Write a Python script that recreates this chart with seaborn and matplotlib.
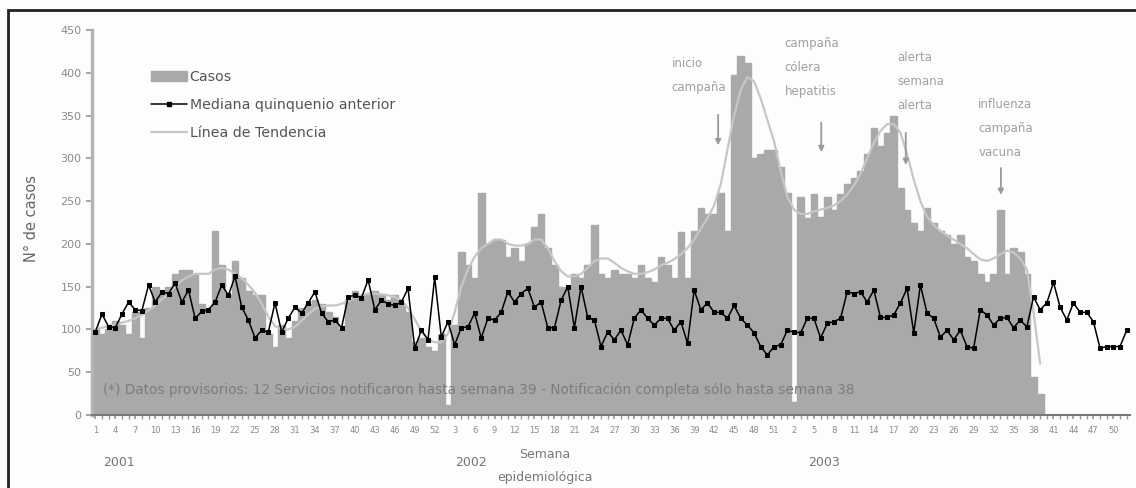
import matplotlib
matplotlib.use("Agg")
import pandas as pd
import matplotlib.pyplot as plt
import seaborn as sns
from matplotlib.lines import Line2D
from matplotlib.patches import Patch, Rectangle

# -------------------------------------------------------
# Datos - semanas 2001..2003
# -------------------------------------------------------
anios = ["2001", "2002", "2003"]
semanas = list(range(1, 53)) + list(range(1, 53)) + list(range(1, 53))

casos_2001 = [100, 95, 100, 110, 105, 95, 120, 90, 125, 150,
              145, 150, 165, 170, 170, 165, 130, 125, 215, 175,
              140, 180, 160, 145, 140, 140, 95, 80, 105, 90,
              110, 125, 130, 135, 130, 120, 115, 100, 135, 145,
              140, 140, 145, 140, 135, 140, 130, 120, 85, 90,
              80, 75]
casos_2002 = [95, 12, 105, 190, 175, 160, 260, 200, 205, 205,
              185, 195, 180, 200, 220, 235, 195, 175, 150, 150,
              165, 160, 175, 222, 165, 160, 170, 165, 165, 160,
              175, 160, 155, 185, 175, 160, 214, 160, 215, 242,
              235, 235, 260, 215, 397, 420, 412, 300, 305, 310,
              310, 290]
casos_2003 = [260, 15, 255, 230, 258, 232, 255, 240, 258, 270,
              277, 285, 305, 335, 315, 330, 350, 265, 240, 225,
              215, 242, 225, 215, 210, 200, 210, 185, 180, 165,
              155, 165, 240, 165, 195, 190, 165, 45, 25]

tend_2001 = [100, 102, 104, 106, 108, 110, 113, 117, 122, 128,
             135, 142, 150, 157, 162, 165, 165, 165, 170, 172,
             170, 165, 160, 152, 143, 130, 115, 104, 100, 100,
             103, 110, 118, 124, 127, 128, 128, 130, 133, 137,
             140, 142, 142, 141, 140, 138, 134, 125, 112, 98,
             88, 85]
tend_2002 = [85, 95, 120, 150, 170, 185, 195, 200, 205, 205,
             200, 198, 198, 200, 205, 205, 195, 180, 168, 162,
             162, 165, 172, 180, 183, 183, 178, 172, 168, 165,
             165, 167, 170, 175, 178, 182, 188, 195, 205, 218,
             230, 245, 270, 310, 350, 380, 395, 390, 370, 345,
             320, 285]
tend_2003 = [255, 240, 235, 235, 238, 240, 242, 245, 250, 258,
             268, 282, 300, 318, 332, 340, 340, 330, 305, 275,
             250, 232, 222, 215, 210, 205, 200, 195, 188, 182,
             180, 183, 188, 192, 190, 183, 170, 120, 60]

mediana = [97, 118, 103, 102, 118, 132, 123, 122, 152, 132,
           144, 142, 154, 132, 146, 113, 121, 123, 132, 152,
           140, 162, 126, 111, 90, 99, 97, 131, 97, 113,
           126, 119, 131, 144, 119, 109, 111, 102, 138, 140,
           137, 158, 123, 134, 130, 128, 132, 148, 78, 99,
           88, 161, 91, 109, 82, 102, 103, 119, 90, 113,
           111, 120, 144, 132, 142, 148, 126, 132, 102, 102,
           134, 150, 102, 150, 114, 111, 80, 97, 88, 99,
           82, 113, 123, 113, 105, 113, 113, 99, 109, 84,
           146, 123, 131, 120, 120, 113, 128, 113, 105, 96,
           80, 70, 80, 82, 99, 97, 96, 113, 113, 90,
           107, 109, 113, 144, 142, 144, 132, 146, 114, 114,
           117, 131, 148, 96, 152, 119, 113, 91, 99, 88,
           99, 80, 78, 123, 117, 105, 113, 114, 102, 111,
           103, 138, 123, 131, 155, 126, 111, 131, 120, 120,
           109, 78, 80, 80, 80, 99]

casos = casos_2001 + casos_2002 + casos_2003
tendencia = tend_2001 + tend_2002 + tend_2003

df_c = pd.DataFrame({"idx": range(len(casos)), "casos": casos, "tend": tendencia})
df_m = pd.DataFrame({"idx": range(len(mediana)), "mediana": mediana})

# -------------------------------------------------------
# Grafico
# -------------------------------------------------------
sns.set_theme(style="white")
plt.rcParams["font.family"] = ["DejaVu Sans"]

GRIS_BARRA = "#a9a9a9"
GRIS_TEND = "#c6c6c6"
GRIS_TXT = "#8a8a8a"

fig = plt.figure(figsize=(11.36, 4.88), dpi=100)
fig.patch.set_facecolor("#fdfdfd")
ax = fig.add_axes([92 / 1136, 73 / 488, 1038 / 1136, 385 / 488])
ax.set_facecolor("#fdfdfd")

sns.barplot(data=df_c, x="idx", y="casos", native_scale=True, color=GRIS_BARRA,
            saturation=1, width=1, linewidth=1.0, edgecolor=GRIS_BARRA, ax=ax, zorder=1)
sns.lineplot(data=df_c, x="idx", y="tend", color=GRIS_TEND, lw=1.6, ax=ax, zorder=2)
sns.lineplot(data=df_m, x="idx", y="mediana", color="black", lw=1.1, marker="s",
             markersize=3, markeredgecolor="black", ax=ax, zorder=3)

ax.set_xlim(-0.5, len(mediana) - 0.5)
ax.set_ylim(0, 450)
ax.set_yticks(range(0, 451, 50))
ax.set_xticks(range(0, len(semanas), 3))
ax.set_xticklabels([str(s) for s in semanas[::3]])
ax.set_xticks(range(len(semanas)), minor=True)
ax.set_xlabel("")
ax.set_ylabel("")
ax.tick_params(axis="x", which="both", length=3, color="#999999", labelsize=6,
               labelcolor=GRIS_TXT, pad=5, bottom=True)
ax.tick_params(axis="y", length=4, color="#999999", labelsize=8,
               labelcolor=GRIS_TXT, left=True)

for s in ["top", "right"]:
    ax.spines[s].set_visible(False)
ax.spines["left"].set_color("#b4b4b4")
ax.spines["left"].set_linewidth(2.5)
ax.spines["bottom"].set_color("#777777")
ax.spines["bottom"].set_linewidth(1.5)

# Leyenda
handles = [
    Patch(facecolor=GRIS_BARRA, edgecolor=GRIS_BARRA, label="Casos"),
    Line2D([], [], color="black", lw=1.1, marker="s", markersize=3,
           label="Mediana quinquenio anterior"),
    Line2D([], [], color=GRIS_TEND, lw=1.6, label="Línea de Tendencia"),
]
ax.legend(handles=handles, loc="upper left", bbox_to_anchor=(0.045, 0.93),
          frameon=False, fontsize=10.2, handlelength=2.5, labelspacing=1.0,
          handletextpad=0.2, labelcolor="#555555")

# Anotaciones
notas = [
    ("inicio\ncampaña", 86.6, 418, 93.6, 354, 312),
    ("campaña\ncólera\nhepatitis", 103.6, 442, 109.1, 345, 304),
    ("alerta\nsemana\nalerta", 120.5, 425, 121.8, 333, 289),
    ("influenza\ncampaña\nvacuna", 132.7, 370, 136.1, 292, 254),
]
for txt, tx, ty, axx, y0, y1 in notas:
    ax.text(tx, ty, txt, fontsize=8.5, color="#a0a0a0", va="top", ha="left",
            linespacing=2.1, zorder=5)
    ax.annotate("", xy=(axx, y1), xytext=(axx, y0),
                arrowprops=dict(arrowstyle="-|>", color="#9a9a9a", lw=1.3,
                                mutation_scale=8), zorder=5)

ax.text(1.2, 29, "(*) Datos provisorios: 12 Servicios notificaron hasta semana 39 - "
        "Notificación completa sólo hasta semana 38",
        fontsize=9.8, color="#7c7c7c", va="center", ha="left", zorder=5)

# Textos de figura
for anio, xp in zip(anios, [103, 455, 808]):
    fig.text(xp / 1136, 1 - 462 / 488, anio, fontsize=9, color="#777777", va="center")
fig.text(545 / 1136, 1 - 466 / 488, "Semana\nepidemiológica", fontsize=9,
         color="#777777", ha="center", va="center", linespacing=1.9)
fig.text(32 / 1136, 1 - 218 / 488, "N° de casos", fontsize=10.5, color="#666666",
         rotation=90, ha="center", va="center")

# Marco
fig.patches.append(Rectangle((8 / 1136, -0.1), 1.2, 1.1 - 10 / 488, fill=False,
                             edgecolor="#222222", lw=2, transform=fig.transFigure,
                             clip_on=False))

plt.savefig("out.png", dpi=100, facecolor=fig.get_facecolor())
plt.close()
